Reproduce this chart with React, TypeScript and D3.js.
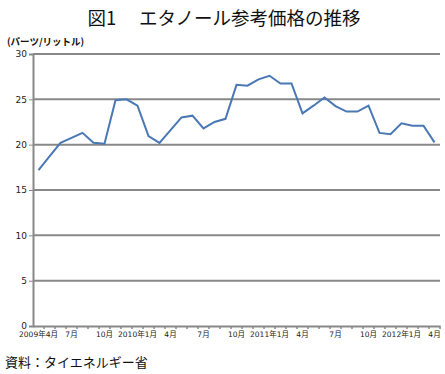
import { useRef, useEffect } from 'react';
import * as d3 from 'd3';

// 2009年4月 .. 2012年4月 (monthly)
const months: string[] = [
  '2009-04', '2009-05', '2009-06', '2009-07', '2009-08', '2009-09', '2009-10', '2009-11', '2009-12',
  '2010-01', '2010-02', '2010-03', '2010-04', '2010-05', '2010-06', '2010-07', '2010-08', '2010-09',
  '2010-10', '2010-11', '2010-12', '2011-01', '2011-02', '2011-03', '2011-04', '2011-05', '2011-06',
  '2011-07', '2011-08', '2011-09', '2011-10', '2011-11', '2011-12', '2012-01', '2012-02', '2012-03',
  '2012-04',
];

const prices: number[] = [
  17.2, 18.7, 20.2, 20.75, 21.3, 20.2, 20.1, 24.9, 25.0,
  24.3, 20.95, 20.2, 21.6, 23.0, 23.2, 21.8, 22.5, 22.85,
  26.6, 26.5, 27.2, 27.6, 26.75, 26.75, 23.45, 24.3, 25.2,
  24.25, 23.65, 23.65, 24.3, 21.3, 21.15, 22.35, 22.1, 22.1,
  20.25,
];

const tickLabels: Record<string, string> = {
  '2009-04': '2009年4月', '2009-07': '7月', '2009-10': '10月',
  '2010-01': '2010年1月', '2010-04': '4月', '2010-07': '7月', '2010-10': '10月',
  '2011-01': '2011年1月', '2011-04': '4月', '2011-07': '7月', '2011-10': '10月',
  '2012-01': '2012年1月', '2012-04': '4月',
};

const yTicks: number[] = [0, 5, 10, 15, 20, 25, 30];

const width = 445;
const height = 374;
const margin = { top: 54, right: 5, bottom: 48, left: 33 };
const labelFont = '"DejaVu Sans", "Noto Sans CJK JP", sans-serif';
const jpFont = '"Noto Sans CJK JP", sans-serif';

export default function App(): JSX.Element {
  const svgRef = useRef<SVGSVGElement | null>(null);

  useEffect(() => {
    if (!svgRef.current) return;
    const svg = d3.select(svgRef.current);
    svg.selectAll('*').remove();

    const x = d3.scaleBand<string>()
      .domain(months)
      .range([margin.left, width - margin.right]);

    const y = d3.scaleLinear()
      .domain([0, 30])
      .range([height - margin.bottom, margin.top]);

    // title
    svg.append('text')
      .attr('x', 224)
      .attr('y', 25)
      .attr('text-anchor', 'middle')
      .attr('font-family', jpFont)
      .attr('font-weight', 400)
      .attr('font-size', 18.5)
      .attr('fill', '#111')
      .text('図1　 エタノール参考価格の推移');

    // unit
    svg.append('text')
      .attr('x', 7)
      .attr('y', 45)
      .attr('font-family', jpFont)
      .attr('font-weight', 700)
      .attr('font-size', 9.5)
      .attr('fill', '#111')
      .text('(パーツ/リットル)');

    // gridlines
    svg.append('g')
      .selectAll('line')
      .data(yTicks.filter(d => d > 0))
      .join('line')
      .attr('x1', margin.left)
      .attr('x2', width - margin.right)
      .attr('y1', d => y(d))
      .attr('y2', d => y(d))
      .attr('stroke', '#888')
      .attr('stroke-width', 2);

    // y axis
    const yAxis = svg.append('g')
      .attr('transform', `translate(${margin.left},0)`)
      .call(d3.axisLeft(y).tickValues(yTicks).tickSize(4).tickPadding(2));
    yAxis.select('.domain').attr('stroke', '#888').attr('stroke-width', 2);
    yAxis.selectAll('.tick line').attr('stroke', '#888').attr('stroke-width', 1);
    yAxis.selectAll('.tick text')
      .attr('font-family', labelFont)
      .attr('font-size', 9)
      .attr('fill', '#222');

    // x axis
    const xAxis = svg.append('g')
      .attr('transform', `translate(0,${height - margin.bottom})`)
      .call(d3.axisBottom(x).tickSize(0).tickPadding(6).tickFormat(d => tickLabels[d] ?? ''));
    xAxis.select('.domain').attr('stroke', '#888').attr('stroke-width', 2);
    xAxis.selectAll('.tick text')
      .attr('font-family', labelFont)
      .attr('font-size', 7.5)
      .attr('fill', '#222');

    // category boundary ticks
    svg.append('g')
      .selectAll('line')
      .data(months.slice(1).concat(['end']))
      .join('line')
      .attr('x1', (d, i) => margin.left + x.bandwidth() * (i + 1))
      .attr('x2', (d, i) => margin.left + x.bandwidth() * (i + 1))
      .attr('y1', height - margin.bottom)
      .attr('y2', height - margin.bottom + 3)
      .attr('stroke', '#888')
      .attr('stroke-width', 1.5);

    // line
    const line = d3.line<number>()
      .x((d, i) => (x(months[i]) ?? 0) + x.bandwidth() / 2)
      .y(d => y(d));

    svg.append('path')
      .datum(prices)
      .attr('d', line)
      .attr('fill', 'none')
      .attr('stroke', '#4a78b4')
      .attr('stroke-width', 2)
      .attr('stroke-linejoin', 'miter');

    // source
    svg.append('text')
      .attr('x', 5)
      .attr('y', 367)
      .attr('font-family', jpFont)
      .attr('font-size', 13)
      .attr('fill', '#111')
      .text('資料：タイエネルギー省');
  }, []);

  return (
    <svg
      ref={svgRef}
      width={width}
      height={height}
      style={{ position: 'absolute', left: 0, top: 0, background: '#fff' }}
    />
  );
}
